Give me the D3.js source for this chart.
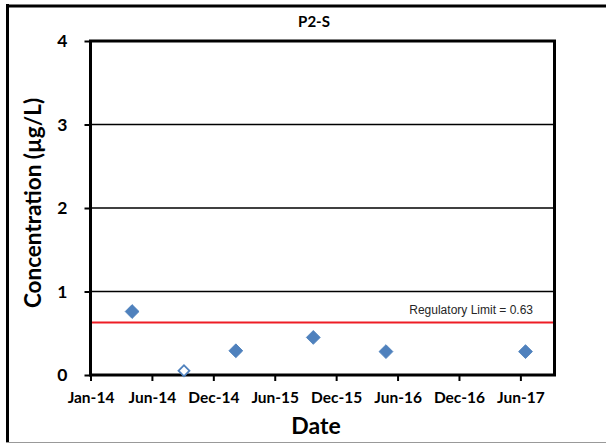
<!DOCTYPE html>
<html>
<head>
<meta charset="utf-8">
<script src="https://cdn.jsdelivr.net/npm/d3@7"></script>
<style>
body { margin: 0; background: #fff; }
text { font-family: Lato, "Open Sans", sans-serif; }
.tick line { stroke: #000; stroke-width: 2; }
</style>
</head>
<body>
<div id="chart"></div>
<script>

// sample dates and concentrations (ug/L)
var sampleDates = ["2014-05-03", "2014-10-02", "2015-03-03", "2015-10-16", "2016-05-16", "2017-06-29"];
var sampleValues = [0.76, 0.05, 0.29, 0.45, 0.28, 0.28];
var detected = [true, false, true, true, true, true];

var xTickDates = ["2014-01-01", "2014-06-30", "2014-12-27", "2015-06-25", "2015-12-22", "2016-06-19", "2016-12-16", "2017-06-14"];
var xDomain = ["2014-01-01", "2017-09-22"];
var yTicks = [0, 1, 2, 3, 4];
var limit = 0.63;

var W = 606, H = 444;
var plot = {left: 90.5, right: 554.5, top: 41, bottom: 375};

var parse = d3.timeParse("%Y-%m-%d");

var svg = d3.select("#chart").append("svg")
  .attr("width", W)
  .attr("height", H);

// outer chart border (left + top black, bottom grey)
svg.append("line").attr("x1", 7.5).attr("x2", 7.5).attr("y1", 4).attr("y2", 442)
  .attr("stroke", "#000").attr("stroke-width", 3);
svg.append("line").attr("x1", 6).attr("x2", W).attr("y1", 6).attr("y2", 6)
  .attr("stroke", "#000").attr("stroke-width", 3);
svg.append("line").attr("x1", 6).attr("x2", W).attr("y1", 442.5).attr("y2", 442.5)
  .attr("stroke", "#999").attr("stroke-width", 1);

var x = d3.scaleTime()
  .domain(xDomain.map(parse))
  .range([plot.left, plot.right]);

var y = d3.scaleLinear()
  .domain([0, 4])
  .range([plot.bottom, plot.top]);

// gridlines
svg.selectAll(".grid")
  .data(yTicks.slice(1, -1))
  .enter().append("line")
  .attr("class", "grid")
  .attr("x1", plot.left).attr("x2", plot.right)
  .attr("y1", function(d){ return y(d); })
  .attr("y2", function(d){ return y(d); })
  .attr("stroke", "#000")
  .attr("stroke-width", 1.3);

// regulatory limit
svg.append("line")
  .attr("x1", plot.left).attr("x2", plot.right)
  .attr("y1", y(limit)).attr("y2", y(limit))
  .attr("stroke", "#ee1c25")
  .attr("stroke-width", 2);

svg.append("text")
  .attr("x", 533)
  .attr("y", y(limit) - 8)
  .attr("text-anchor", "end")
  .style("font-family", "'Liberation Sans', Arial, sans-serif")
  .style("font-size", "12px")
  .attr("fill", "#262626")
  .text("Regulatory Limit = " + limit);

var xAxis = d3.axisBottom(x)
  .tickValues(xTickDates.map(parse))
  .tickFormat(d3.timeFormat("%b-%y"))
  .tickSize(6)
  .tickSizeOuter(0);

var yAxis = d3.axisLeft(y)
  .tickValues(yTicks)
  .tickFormat(d3.format("d"))
  .tickSize(6)
  .tickSizeOuter(0);

var gx = svg.append("g")
  .attr("transform", "translate(0," + plot.bottom + ")")
  .call(xAxis);
gx.select(".domain").remove();
gx.selectAll("text")
  .attr("y", 28).attr("dy", null)
  .attr("fill", "#000")
  .style("font-size", "15.5px")
  .style("font-weight", "bold");

var gy = svg.append("g")
  .attr("transform", "translate(" + plot.left + ",0)")
  .call(yAxis);
gy.select(".domain").remove();
gy.selectAll("text")
  .attr("x", -23)
  .attr("fill", "#000")
  .style("font-size", "17.5px")
  .style("font-weight", "bold");

// plot frame
svg.append("rect")
  .attr("x", plot.left).attr("y", plot.top)
  .attr("width", plot.right - plot.left)
  .attr("height", plot.bottom - plot.top)
  .attr("fill", "none")
  .attr("stroke", "#000")
  .attr("stroke-width", 3);

// markers
var pts = sampleDates.map(function(d, i){
  return {date: parse(d), value: sampleValues[i], det: detected[i]};
});

svg.selectAll(".pt")
  .data(pts)
  .enter().append("path")
  .attr("class", "pt")
  .attr("d", function(d){ return d3.symbol(d3.symbolSquare, d.det ? 96 : 60)(); })
  .attr("transform", function(d){
    return "translate(" + x(d.date) + "," + y(d.value) + ") rotate(45)";
  })
  .attr("fill", function(d){ return d.det ? "#4f81bd" : "#fff"; })
  .attr("stroke", function(d){ return d.det ? "#4a7ebb" : "#4f81bd"; })
  .attr("stroke-width", function(d){ return d.det ? 0.8 : 1.8; });

// titles
svg.append("text")
  .attr("x", 314).attr("y", 27)
  .attr("text-anchor", "middle")
  .style("font-size", "15px")
  .style("font-weight", "bold")
  .text("P2-S");

svg.append("text")
  .attr("x", 316).attr("y", 434)
  .attr("text-anchor", "middle")
  .style("font-size", "23px")
  .style("font-weight", "bold")
  .text("Date");

svg.append("text")
  .attr("transform", "translate(41,203) rotate(-90)")
  .attr("text-anchor", "middle")
  .style("font-size", "22.5px")
  .style("font-weight", "bold")
  .text("Concentration (µg/L)");

</script>
</body>
</html>
